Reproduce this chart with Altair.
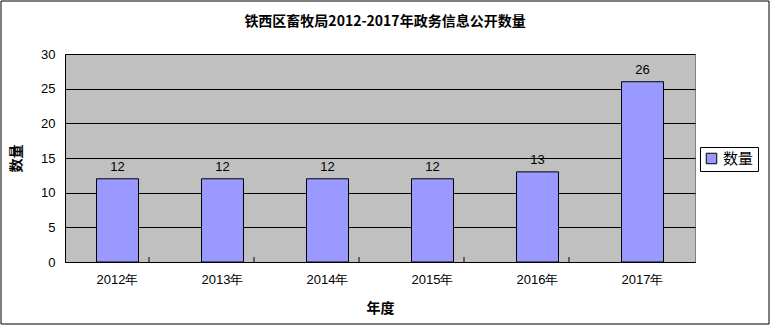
import altair as alt
import pandas as pd

years = ["2012年", "2013年", "2014年", "2015年", "2016年", "2017年"]
values = [12, 12, 12, 12, 13, 26]
series = ["数量"] * len(years)

title_text = "铁西区畜牧局2012-2017年政务信息公开数量"
x_title = "年度"
y_title = "数量"

df = pd.DataFrame({"year": years, "value": values, "series": series})
tick_df = pd.DataFrame({"year": years[:-1]})
frame_df = pd.DataFrame({"k": [0]})

FONT = "Noto Sans CJK SC"
W, H = 630, 208

xscale = alt.Scale(domain=years, paddingInner=0.6, paddingOuter=0.3)
x_axis = alt.Axis(title=x_title, labelAngle=0, ticks=False, grid=False,
                  labelPadding=11, titlePadding=15, labelFontSize=13)
y_axis = alt.Axis(title=y_title, values=[0, 5, 10, 15, 20, 25, 30],
                  ticks=False, labelPadding=10, titlePadding=17, grid=True, labelFontSize=13)
X = alt.X("year:N", sort=years, scale=xscale, axis=x_axis)
Y = alt.Y("value:Q", scale=alt.Scale(domain=[0, 30]), axis=y_axis)

base = alt.Chart(df)

bars = base.mark_bar(stroke="black", strokeWidth=1).encode(
    x=X,
    y=Y,
    color=alt.Color("series:N", scale=alt.Scale(domain=["数量"], range=["#9999FF"]),
                    legend=alt.Legend(title=None, orient="none", legendX=635, legendY=93,
                                      strokeColor="black", fillColor="white", padding=4,
                                      symbolType="square", symbolSize=110,
                                      symbolStrokeColor="black", symbolStrokeWidth=1,
                                      labelFont=FONT, labelFontSize=15, labelColor="black")),
)

labels = base.mark_text(dy=-5, baseline="bottom", fontSize=13, color="black",
                        font="Liberation Sans").encode(
    x=X,
    y=Y,
    text=alt.Text("value:Q"),
)

ticks = alt.Chart(tick_df).mark_rule(color="black", strokeWidth=1).encode(
    x=alt.X("year:N", sort=years, scale=xscale, axis=x_axis, bandPosition=0.5),
    xOffset=alt.value(52.5),
    y=alt.value(H),
    y2=alt.value(H - 5),
)

frame = alt.Chart(frame_df).mark_rect(fillOpacity=0, stroke="black", strokeWidth=1).encode(
    x=alt.value(-64), x2=alt.value(704), y=alt.value(-53), y2=alt.value(270),
)

chart = alt.layer(bars, labels, ticks, frame).properties(
    width=W, height=H,
    background="white",
    title=alt.TitleParams(title_text, font=FONT, fontSize=14, fontWeight="bold",
                          color="black", anchor="middle", offset=-28, dx=5),
    autosize=alt.AutoSizeParams(type="none"),
    padding={"left": 65, "top": 54, "right": 76, "bottom": 64},
).configure_view(
    fill="#C0C0C0", stroke="#808080", strokeWidth=1
).configure_axis(
    domainColor="black", domainWidth=1, gridColor="black", gridOpacity=1, gridWidth=1,
    labelFont="Liberation Sans", labelFontSize=12, labelColor="black",
    titleFont=FONT, titleFontSize=14, titleFontWeight="bold", titleColor="black",
)

chart.save("out.html", embed_options={"renderer": "svg", "actions": False})
